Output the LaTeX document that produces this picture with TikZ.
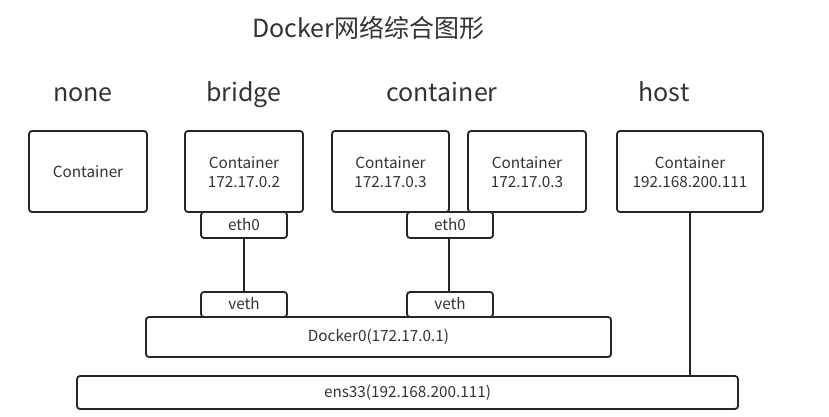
\documentclass[tikz,border=0pt]{standalone}
\usepackage{fontspec}
\setmainfont{Noto Sans CJK SC}
\definecolor{txt}{HTML}{333333}
\begin{document}
\begin{tikzpicture}[x=1pt,y=-1pt,
  box/.style={draw=black!85,line width=1.8pt,rounded corners=3pt,fill=white},
  lbl/.style={text=txt,font=\fontsize{15.3}{19}\selectfont,align=center},
  head/.style={text=txt,font=\fontsize{25}{28}\selectfont,anchor=base},
  link/.style={draw=black!85,line width=1.8pt}]
\useasboundingbox (0,0) rectangle (829,416);
\fill[white] (0,0) rectangle (829,416);
% title and headers
\node[head] (title) at (368,37) {Docker网络综合图形};
\node[head] (hnone) at (83,101) {none};
\node[head] (hbridge) at (244,101) {bridge};
\node[head] (hcont) at (442,101) {container};
\node[head] (hhost) at (664,101) {host};
% containers
\draw[box] (29,131) rectangle (147,212);
\node[lbl] (c0) at (88,172) {Container};
\draw[box] (185,131) rectangle (303,212);
\node[lbl] (c1) at (244,172) {Container\\172.17.0.2};
\draw[box] (332,131) rectangle (449,212);
\node[lbl] (c2) at (390.5,172) {Container\\172.17.0.3};
\draw[box] (468,131) rectangle (586,212);
\node[lbl] (c3) at (527,172) {Container\\172.17.0.3};
\draw[box] (617,131) rectangle (763,212);
\node[lbl] (c4) at (690,172) {Container\\192.168.200.111};
% links
\coordinate (e1b) at (244,238);
\coordinate (e2b) at (449,238);
\coordinate (v1t) at (244,292);
\coordinate (v2t) at (449,292);
\coordinate (hostb) at (690,212);
\coordinate (enst) at (690,376);
\draw[link] (e1b) -- (v1t);
\draw[link] (e2b) -- (v2t);
\draw[link] (hostb) -- (enst);
% eth0
\draw[box] (201,212) rectangle (287,238);
\node[lbl] (eth1) at (244,225) {eth0};
\draw[box] (407,212) rectangle (493,238);
\node[lbl] (eth2) at (450,225) {eth0};
% bridge
\draw[box] (146,317) rectangle (611,357);
\node[lbl] (docker) at (378.5,337) {Docker0(172.17.0.1)};
\draw[box] (201,292) rectangle (287,317);
\node[lbl] (veth1) at (244,304) {veth};
\draw[box] (407,292) rectangle (493,317);
\node[lbl] (veth2) at (450,304) {veth};
% ens33
\draw[box] (77,376) rectangle (738,409);
\node[lbl] (ens) at (407.5,392.5) {ens33(192.168.200.111)};
\end{tikzpicture}
\end{document}
